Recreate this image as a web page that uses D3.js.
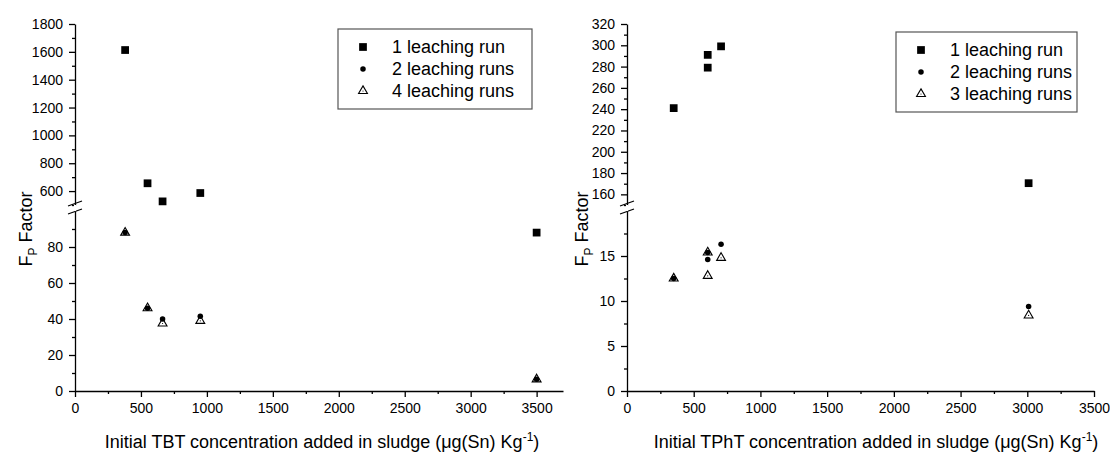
<!DOCTYPE html>
<html>
<head>
<meta charset="utf-8">
<script src="https://cdn.jsdelivr.net/npm/d3@7"></script>
<style>
  body { margin: 0; background: #fff; }
  svg { display: block; font-family: Arial, "Liberation Sans", sans-serif; }
</style>
</head>
<body>
<svg id="chart" width="1110" height="453"></svg>
<script>
// datos
const tbtConc = [380, 550, 664, 950, 3500];
const tbtRun1 = [1613, 656, 526, 586, 88];
const tbtRun2 = [88, 46, 40, 41.5, 6.5];
const tbtRun4 = [88, 46, 37.5, 39, 6.5];

const tphtConc = [350, 605, 605, 705, 3010];
const tphtRun1 = [241, 291, 279, 299, 170.5];
const tphtRun2 = [12.5, 15.4, 14.6, 16.3, 9.4];
const tphtRun3 = [12.5, 15.4, 12.8, 14.8, 8.4];

// etiquetas de los ejes
const xTicks = [0, 500, 1000, 1500, 2000, 2500, 3000, 3500];
const tbtUpperTicks = [600, 800, 1000, 1200, 1400, 1600, 1800];
const tbtLowerTicks = [0, 20, 40, 60, 80];
const tphtUpperTicks = [160, 180, 200, 220, 240, 260, 280, 300, 320];
const tphtLowerTicks = [0, 5, 10, 15];

const tbtLegend = ["1 leaching run", "2 leaching runs", "4 leaching runs"];
const tphtLegend = ["1 leaching run", "2 leaching runs", "3 leaching runs"];

const svg = d3.select("#chart");
const fmt = d => String(d);

function drawPanel(p) {
  const g = svg.append("g");

  const x = d3.scaleLinear().domain(p.xDomain).range(p.xRange);
  const yUp = d3.scaleLinear().domain(p.upDomain).range([205, 24]);
  const yLow = d3.scaleLinear().domain(p.lowDomain).range([391, 211]);
  const y = v => v >= p.upDomain[0] ? yUp(v) : yLow(v);
  const x0 = p.xRange[0];

  // eje x
  g.append("g")
      .attr("transform", "translate(0,391)")
      .call(d3.axisBottom(x).tickValues(xTicks).tickFormat(fmt).tickSize(6).tickSizeOuter(0).tickPadding(6))
      .call(a => a.selectAll("text").style("font-size", "14px"));
  g.append("g")
      .attr("transform", "translate(0,391)")
      .call(d3.axisBottom(x).tickValues(d3.range(250, p.xDomain[1], 500)).tickSize(3).tickFormat(""))
      .call(a => a.select(".domain").remove());

  // eje y en dos tramos
  [[yUp, p.upTicks, p.upMinor], [yLow, p.lowTicks, p.lowMinor]].forEach(([s, ticks, minor]) => {
    g.append("g")
        .attr("transform", `translate(${x0},0)`)
        .call(d3.axisLeft(s).tickValues(ticks).tickFormat(fmt).tickSize(6).tickSizeOuter(0).tickPadding(6))
        .call(a => a.selectAll("text").style("font-size", "14px"));
    g.append("g")
        .attr("transform", `translate(${x0},0)`)
        .call(d3.axisLeft(s).tickValues(minor).tickSize(3).tickFormat(""))
        .call(a => a.select(".domain").remove());
  });
  g.selectAll(".tick line, .domain").attr("stroke", "#000").attr("stroke-width", 1.3);

  // marcas de corte
  [203.5, 211.5].forEach(yb => {
    g.append("line")
        .attr("x1", x0 - 7).attr("y1", yb + 2.5)
        .attr("x2", x0 + 7).attr("y2", yb - 2.5)
        .attr("stroke", "#000").attr("stroke-width", 1.3);
  });
  g.append("rect").attr("x", x0 - 1).attr("y", 205).attr("width", 2).attr("height", 6).attr("fill", "#fff");

  // titulos
  const yl = g.append("text")
      .attr("transform", `translate(${p.yLabelX},229) rotate(-90)`)
      .attr("text-anchor", "middle")
      .style("font-size", "18px");
  yl.append("tspan").text("F");
  yl.append("tspan").attr("dy", 5).style("font-size", "12px").text("P");
  yl.append("tspan").attr("dy", -5).text(" Factor");

  const xl = g.append("text")
      .attr("x", p.xLabelX).attr("y", 448)
      .attr("text-anchor", "middle")
      .style("font-size", "18px");
  xl.append("tspan").text(p.xLabel + " (μg(Sn) Kg");
  xl.append("tspan").attr("dy", -7).style("font-size", "12px").text("-1");
  xl.append("tspan").attr("dy", 7).text(")");

  // simbolos
  const sq = d3.symbol(d3.symbolSquare, 60);
  const tri = d3.symbol(d3.symbolTriangle, 34);
  const dot = d3.symbol(d3.symbolCircle, 24);

  g.append("g").selectAll("path")
    .data(p.conc.map((c, i) => [c, p.s1[i]]))
    .join("path")
      .attr("d", sq)
      .attr("transform", d => `translate(${x(d[0])},${y(d[1])})`)
      .attr("fill", "#000");

  const tg = g.append("g").selectAll("g")
    .data(p.conc.map((c, i) => [c, p.s3[i]]))
    .join("g")
      .attr("transform", d => `translate(${x(d[0])},${y(d[1])})`);
  tg.append("path").attr("d", tri).attr("fill", "#fff").attr("stroke", "#000").attr("stroke-width", 1.1);
  tg.append("circle").attr("r", 0.6).attr("fill", "#000");

  g.append("g").selectAll("path")
    .data(p.conc.map((c, i) => [c, p.s2[i]]))
    .join("path")
      .attr("d", dot)
      .attr("transform", d => `translate(${x(d[0])},${y(d[1])})`)
      .attr("fill", "#000");

  // leyenda
  const lg = g.append("g").attr("transform", `translate(${p.legend[0]},${p.legend[1]})`);
  lg.append("rect")
      .attr("width", p.legend[2]).attr("height", 80)
      .attr("fill", "#fff").attr("stroke", "#555").attr("stroke-width", 1.2);
  const syms = [sq, dot, tri];
  p.legendLabels.forEach((t, i) => {
    const row = lg.append("g").attr("transform", `translate(25,${18 + i * 22})`);
    row.append("path").attr("d", syms[i])
        .attr("fill", i === 2 ? "#fff" : "#000")
        .attr("stroke", i === 2 ? "#000" : "none").attr("stroke-width", 1.1);
    if (i === 2) row.append("circle").attr("r", 0.6).attr("fill", "#000");
    row.append("text").attr("x", 29).attr("dy", "0.36em").style("font-size", "18px").text(t);
  });
}

drawPanel({
  conc: tbtConc, s1: tbtRun1, s2: tbtRun2, s3: tbtRun4,
  xDomain: [0, 3700], xRange: [75, 563],
  upDomain: [500, 1800], lowDomain: [0, 100],
  upTicks: tbtUpperTicks, lowTicks: tbtLowerTicks,
  upMinor: d3.range(500, 1800, 100).filter(v => v % 200 !== 0),
  lowMinor: d3.range(10, 100, 20),
  yLabelX: 32, xLabelX: 322,
  xLabel: "Initial TBT concentration added in sludge",
  legend: [338, 29, 194], legendLabels: tbtLegend
});

drawPanel({
  conc: tphtConc, s1: tphtRun1, s2: tphtRun2, s3: tphtRun3,
  xDomain: [0, 3500], xRange: [627, 1094],
  upDomain: [150, 320], lowDomain: [0, 20],
  upTicks: tphtUpperTicks, lowTicks: tphtLowerTicks,
  upMinor: d3.range(150, 320, 10).filter(v => v % 20 !== 0),
  lowMinor: d3.range(2.5, 20, 5),
  yLabelX: 588, xLabelX: 876,
  xLabel: "Initial TPhT concentration added in sludge",
  legend: [896, 32, 181], legendLabels: tphtLegend
});
</script>
</body>
</html>
